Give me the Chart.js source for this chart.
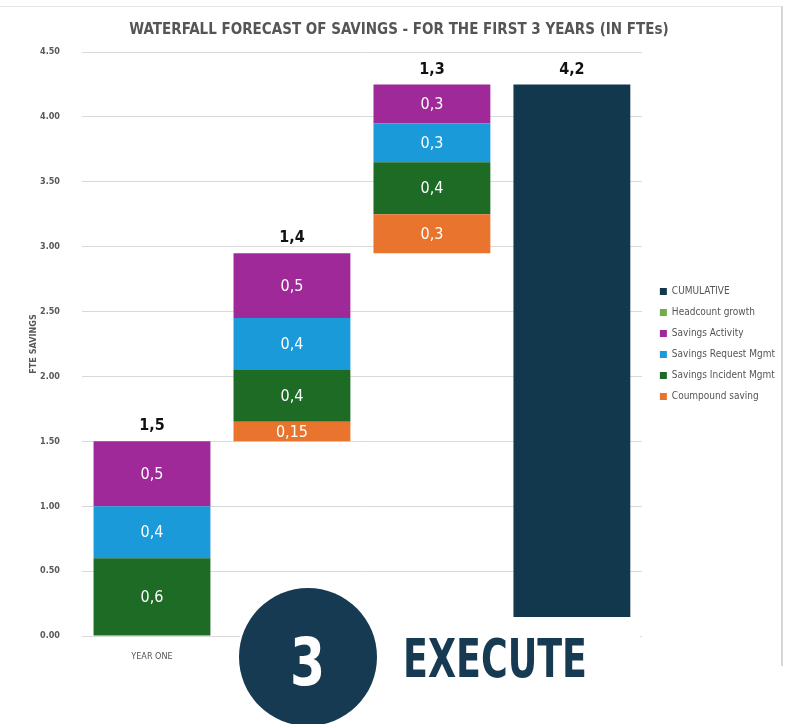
<!DOCTYPE html>
<html>
<head>
<meta charset="utf-8">
<script src="https://cdn.jsdelivr.net/npm/chart.js@4.4.1/dist/chart.umd.min.js"></script>
<style>
  html, body { margin: 0; padding: 0; background: #fff; }
  #wrap { position: relative; width: 788px; height: 724px; overflow: hidden; }
  #frame { position: absolute; left: 0; top: 6px; width: 783px; height: 660px;
           border-top: 1px solid #e6e6e6; border-right: 2px solid #d6d6d6; box-sizing: border-box; }
  #cover { position: absolute; left: 240px; top: 617px; width: 400px; height: 107px; background: #fff; }
  #badge { position: absolute; left: 239px; top: 588px; width: 138px; height: 138px; border-radius: 50%;
           background: #163a52; color: #fff; text-align: center;
           font: bold 66px 'Liberation Sans Narrow', 'DejaVu Sans Condensed', Arial, sans-serif;
           line-height: 150px; }
  #badge span { display: inline-block; transform: scaleX(0.85); }
  #execute { position: absolute; left: 403px; top: 628px; color: #163a52;
             font: bold 54px 'Liberation Sans Narrow', 'DejaVu Sans Condensed', Arial, sans-serif;
             line-height: 62px; transform-origin: 0 0; transform: scaleX(0.75); }
</style>
</head>
<body>
<div id="wrap">
  <canvas id="chart" width="788" height="724"></canvas>
  <div id="frame"></div>
  <div id="cover"></div>
  <div id="badge"><span>3</span></div>
  <div id="execute">EXECUTE</div>
</div>
<script>
// categories and values (FTE)
const categories = ['YEAR ONE', 'YEAR TWO', 'YEAR THREE', 'CUMULATIVE'];
const baseValues = [0, 1.5, 2.95, 0];          // invisible offset of each waterfall step
const coumpoundSaving = [0, 0.15, 0.3, 0];
const incidentMgmt = [0.6, 0.4, 0.4, 0];
const requestMgmt = [0.4, 0.4, 0.3, 0];
const savingsActivity = [0.5, 0.5, 0.3, 0];
const headcountGrowth = [0, 0, 0, 0];
const cumulative = [0, 0, 0, 4.25];
const totalLabels = ['1,5', '1,4', '1,3', '4,2'];
const yTicks = [0, 0.5, 1, 1.5, 2, 2.5, 3, 3.5, 4, 4.5];

const NARROW = "'Liberation Sans Narrow', 'DejaVu Sans Condensed', Arial, sans-serif";

// value labels inside segments + totals above each column
const labelPlugin = {
    id: 'waterfallLabels',
    afterLayout(chart) {
        // legend sits a little away from the plot
        chart.legend.left += 7;
        chart.legend.right += 7;
    },
    afterDatasetsDraw(chart) {
        const ctx = chart.ctx;
        const xScale = chart.scales.x;
        const yScale = chart.scales.y;
        ctx.save();
        ctx.textAlign = 'center';
        ctx.textBaseline = 'middle';
        ctx.font = '16px ' + NARROW;
        ctx.fillStyle = '#ffffff';
        chart.data.datasets.forEach((ds, di) => {
            if (!ds.showValues) return;
            const meta = chart.getDatasetMeta(di);
            meta.data.forEach((bar, i) => {
                const v = ds.data[i];
                if (!v) return;
                ctx.fillText(String(v).replace('.', ','), bar.x, (bar.y + bar.base) / 2 + 1);
            });
        });
        ctx.font = 'bold 16px ' + NARROW;
        ctx.fillStyle = '#111111';
        categories.forEach((c, i) => {
            const top = baseValues[i] + coumpoundSaving[i] + incidentMgmt[i] + requestMgmt[i] +
                savingsActivity[i] + headcountGrowth[i] + cumulative[i];
            ctx.fillText(totalLabels[i], xScale.getPixelForValue(i), yScale.getPixelForValue(top) - 15);
        });
        ctx.restore();
    }
};

const barCommon = { barPercentage: 0.835, categoryPercentage: 1, borderWidth: 0 };

new Chart(document.getElementById('chart'), {
    type: 'bar',
    data: {
        labels: categories,
        datasets: [
            { ...barCommon, label: 'base', data: baseValues, backgroundColor: 'rgba(0,0,0,0)' },
            { ...barCommon, label: 'Coumpound saving', data: coumpoundSaving, backgroundColor: '#e8742e', showValues: true },
            { ...barCommon, label: 'Savings Incident Mgmt', data: incidentMgmt, backgroundColor: '#1e6b25', showValues: true },
            { ...barCommon, label: 'Savings Request Mgmt', data: requestMgmt, backgroundColor: '#1a9ad8', showValues: true },
            { ...barCommon, label: 'Savings Activity', data: savingsActivity, backgroundColor: '#a0299a', showValues: true },
            { ...barCommon, label: 'Headcount growth', data: headcountGrowth, backgroundColor: '#70ad47' },
            { ...barCommon, label: 'CUMULATIVE', data: cumulative, backgroundColor: '#12384e' }
        ]
    },
    options: {
        responsive: false,
        animation: false,
        layout: { padding: { top: 0, right: 10, bottom: 58, left: 20 } },
        plugins: {
            title: {
                display: true,
                text: 'WATERFALL FORECAST OF SAVINGS - FOR THE FIRST 3 YEARS (IN FTEs)',
                color: '#555555',
                font: { family: NARROW, size: 15, weight: 'bold' },
                padding: { top: 21, bottom: 13 }
            },
            legend: {
                position: 'right',
                fullSize: false,
                reverse: true,
                labels: {
                    filter: item => item.text !== 'base',
                    boxWidth: 7,
                    boxHeight: 7,
                    padding: 11,
                    color: '#555555',
                    font: { family: NARROW, size: 10 }
                }
            },
            tooltip: { enabled: false }
        },
        scales: {
            x: {
                stacked: true,
                grid: { display: false, drawTicks: false },
                border: { display: true, color: '#d9d9d9' },
                ticks: { color: '#555555', padding: 15, font: { family: NARROW, size: 9 } },
                afterFit: s => { s.height = 30; }
            },
            y: {
                stacked: true,
                min: 0,
                max: 4.5,
                afterBuildTicks: s => { s.ticks = yTicks.map(v => ({ value: v })); },
                grid: { color: '#d9d9d9', drawTicks: false },
                border: { display: false },
                ticks: {
                    color: '#595959',
                    padding: 22,
                    font: { family: NARROW, size: 9, weight: 'bold' },
                    callback: v => Number(v).toFixed(2)
                },
                title: {
                    display: true,
                    text: 'FTE SAVINGS',
                    color: '#595959',
                    font: { family: NARROW, size: 9, weight: 'bold' },
                    padding: { top: 8, bottom: 0 }
                },
                afterFit: s => { s.width = 62; }
            }
        }
    },
    plugins: [labelPlugin]
});
</script>
</body>
</html>
